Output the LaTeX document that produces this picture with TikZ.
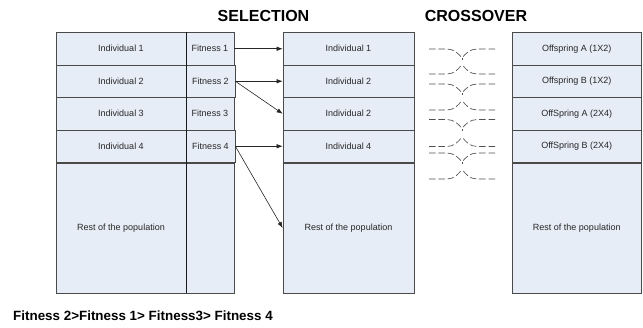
\documentclass[tikz,border=0pt]{standalone}
\usepackage{fontspec}
\setmainfont{Liberation Sans}
\usetikzlibrary{arrows.meta}
\definecolor{cellfill}{HTML}{E7EDF7}
\definecolor{cellline}{HTML}{4A4A4A}
\definecolor{cross}{HTML}{505050}
\begin{document}
\begin{tikzpicture}[x=1pt,y=-1pt,
  cell/.style={draw=cellline,fill=cellfill,line width=0.7pt,rectangle,inner sep=0pt,
    font=\fontsize{9}{10}\selectfont,text=black!85},
  wcell/.style={cell,minimum width=130pt},
  fcell/.style={cell,minimum width=48pt},
  rowh/.style={minimum height=32.5pt},
  resth/.style={minimum height=130pt},
  title/.style={font=\bfseries\fontsize{16}{18}\selectfont,anchor=base},
  sel/.style={draw=black!85,line width=0.6pt,-{Latex[length=6pt,width=4.5pt]}},
  xline/.style={draw=cross,line width=0.65pt,dash pattern=on 6.5pt off 2.8pt}]
\useasboundingbox (0,0) rectangle (643,327);

% titles
\node[title] (tsel) at (263.5,21) {SELECTION};
\node[title] (tcross) at (476,21) {CROSSOVER};

% current population with fitness column
\node[wcell,rowh] (i1) at (121,48.75) {Individual 1};
\node[wcell,rowh] (i2) at (121,81.25) {Individual 2};
\node[wcell,rowh] (i3) at (121,113.75) {Individual 3};
\node[wcell,rowh] (i4) at (121,146.25) {Individual 4};
\node[wcell,resth] (ir) at (121,228) {Rest of the population};
\node[fcell,rowh] (f1) at (210,48.75) {Fitness 1};
\node[fcell,rowh,minimum width=49pt] (f2) at (210.5,81.25) {Fitness 2};
\node[fcell,rowh] (f3) at (210,113.75) {Fitness 3};
\node[fcell,rowh,minimum width=49pt] (f4) at (210.5,146.25) {Fitness 4};
\node[fcell,resth] (fr) at (210,228) {};
% darker divider between the two columns
\draw[black!90,line width=0.9pt] (i1.north east) -- (ir.south east);

% selected individuals
\node[wcell,rowh,minimum width=131pt] (m1) at (348.5,48.75) {Individual 1};
\node[wcell,rowh,minimum width=131pt] (m2) at (348.5,81.25) {Individual 2};
\node[wcell,rowh,minimum width=131pt] (m3) at (348.5,113.75) {Individual 2};
\node[wcell,rowh,minimum width=131pt] (m4) at (348.5,146.25) {Individual 4};
\node[wcell,resth,minimum width=131pt] (mr) at (348.5,228) {Rest of the population};

% offspring after crossover
\node[wcell,rowh,minimum width=129.5pt] (o1) at (576.75,48.75) {Offspring A (1X2)};
\node[wcell,rowh,minimum width=129.5pt] (o2) at (576.75,81.25) {Offspring B (1X2)};
\node[wcell,rowh,minimum width=129.5pt] (o3) at (576.75,113.75) {OffSpring A (2X4)};
\node[wcell,rowh,minimum width=129.5pt] (o4) at (576.75,146.25) {OffSpring B (2X4)};
\node[wcell,resth,minimum width=129.5pt] (or) at (576.75,228) {Rest of the population};

% selection arrows
\draw[sel] (f1.east) -- (m1.west);
\draw[sel] (f2.east) -- (m2.west);
\draw[sel] (f2.east) -- (m3.west);
\draw[sel] (f4.east) -- (m4.west);
\draw[sel] (f4.east) -- (mr.west);

% crossover marks between parent pairs
\foreach \t/\b in {49/74, 84/110, 119.5/146.5, 153/179}{
  \draw[xline] (429,\t) -- (447,\t) .. controls (454,\t) and (459,\t+5) .. (462,\t+9);
  \draw[xline] (495,\t) -- (477,\t) .. controls (470,\t) and (465,\t+5) .. (462,\t+9);
  \draw[cross,line width=0.65pt] (462,\t+9) -- (462,\t+11);
  \draw[xline] (429,\b) -- (447,\b) .. controls (454,\b) and (459,\b-5) .. (462,\b-10);
  \draw[xline] (495,\b) -- (477,\b) .. controls (470,\b) and (465,\b-5) .. (462,\b-10);
}

% fitness ordering
\node[font=\bfseries\fontsize{13.4}{15}\selectfont,anchor=base west,inner sep=0pt] (order) at (13,320) {Fitness 2>Fitness 1> Fitness3> Fitness 4};
\end{tikzpicture}
\end{document}
